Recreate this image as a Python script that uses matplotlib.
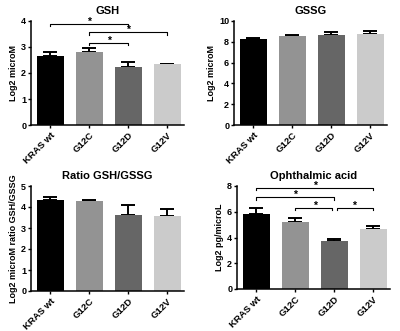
import numpy as np
import matplotlib
matplotlib.use("Agg")
import matplotlib.pyplot as plt

plt.rcParams['font.family'] = ['Liberation Sans', 'DejaVu Sans']
plt.rcParams['font.weight'] = 'bold'

groups = ['KRAS wt', 'G12C', 'G12D', 'G12V']
colors = ['#000000', '#939393', '#666666', '#cbcbcb']

gsh_mean = [2.65, 2.81, 2.24, 2.33]
gsh_err = [0.14, 0.16, 0.19, 0.03]
gssg_mean = [8.31, 8.56, 8.63, 8.76]
gssg_err = [0.02, 0.10, 0.32, 0.32]
ratio_mean = [4.35, 4.27, 3.60, 3.57]
ratio_err = [0.15, 0.08, 0.50, 0.33]
oa_mean = [5.86, 5.20, 3.75, 4.63]
oa_err = [0.42, 0.30, 0.15, 0.30]

# significance brackets: (from, to, height)
gsh_sig = [(0, 2, 3.9), (1, 3, 3.57), (1, 2, 3.17)]
oa_sig = [(0, 3, 7.87), (0, 2, 7.15), (1, 2, 6.3), (2, 3, 6.3)]

W, H = 400, 331
fig = plt.figure(figsize=(W / 100, H / 100), dpi=100)


def panel(px_left, px_top, px_bottom, title, ylabel, means, errs, ymax, ystep, sig=None, drop=0.1):
    ax = fig.add_axes([px_left / W, 1 - px_bottom / H, 153 / W, (px_bottom - px_top) / H])
    x = np.arange(len(groups))
    ax.bar(x, means, width=0.7, color=colors, zorder=2)
    ax.errorbar(x, means, yerr=[np.zeros(len(means)), errs], fmt='none', ecolor='black',
                elinewidth=1.4, capsize=5, capthick=1.4, zorder=1)
    ax.set_xlim(-0.5, 3.43)
    ax.set_ylim(0, ymax)
    ax.set_yticks(np.arange(0, ymax + 0.01, ystep))
    ax.set_xticks(x)
    ax.set_xticklabels(groups, rotation=45, ha='right', rotation_mode='anchor', fontsize=6.8, fontweight='bold')
    ax.tick_params(axis='y', labelsize=6.5, width=1, length=2.5, pad=1)
    ax.tick_params(axis='x', width=1, length=2.5, pad=1.5)
    for s in ['top', 'right']:
        ax.spines[s].set_visible(False)
    for s in ['left', 'bottom']:
        ax.spines[s].set_linewidth(1.1)
    ax.set_title(title, fontsize=8, fontweight='bold', pad=5)
    ax.set_ylabel(ylabel, fontsize=6.5, fontweight='bold', labelpad=2)
    if sig:
        for a, b, h in sig:
            x0, x1 = a, b
            if (a, b) in [(1, 2)] and len(sig) == 4:
                x1 = b - 0.06
            if (a, b) in [(2, 3)] and len(sig) == 4:
                x0 = a + 0.06
            ax.plot([x0, x0, x1, x1], [h - drop, h, h, h - drop], color='black', lw=0.8,
                    clip_on=False, zorder=3)
            ax.text((a + b) / 2, h - drop * 1.1, '*', ha='center', va='bottom', fontsize=7.5,
                    fontweight='bold')
    return ax


panel(31, 21, 125, 'GSH', 'Log2 microM', gsh_mean, gsh_err, 4, 1, gsh_sig, drop=0.1)
panel(234, 21, 125, 'GSSG', 'Log2 microM', gssg_mean, gssg_err, 10, 2)
panel(31, 186, 291, 'Ratio GSH/GSSG', 'Log2 microM ratio GSH/GSSG', ratio_mean, ratio_err, 5, 1)
panel(237, 186, 289, 'Ophthalmic acid', 'Log2 pg/microL', oa_mean, oa_err, 8, 2, oa_sig, drop=0.2)

fig.savefig('out.png', dpi=100)
